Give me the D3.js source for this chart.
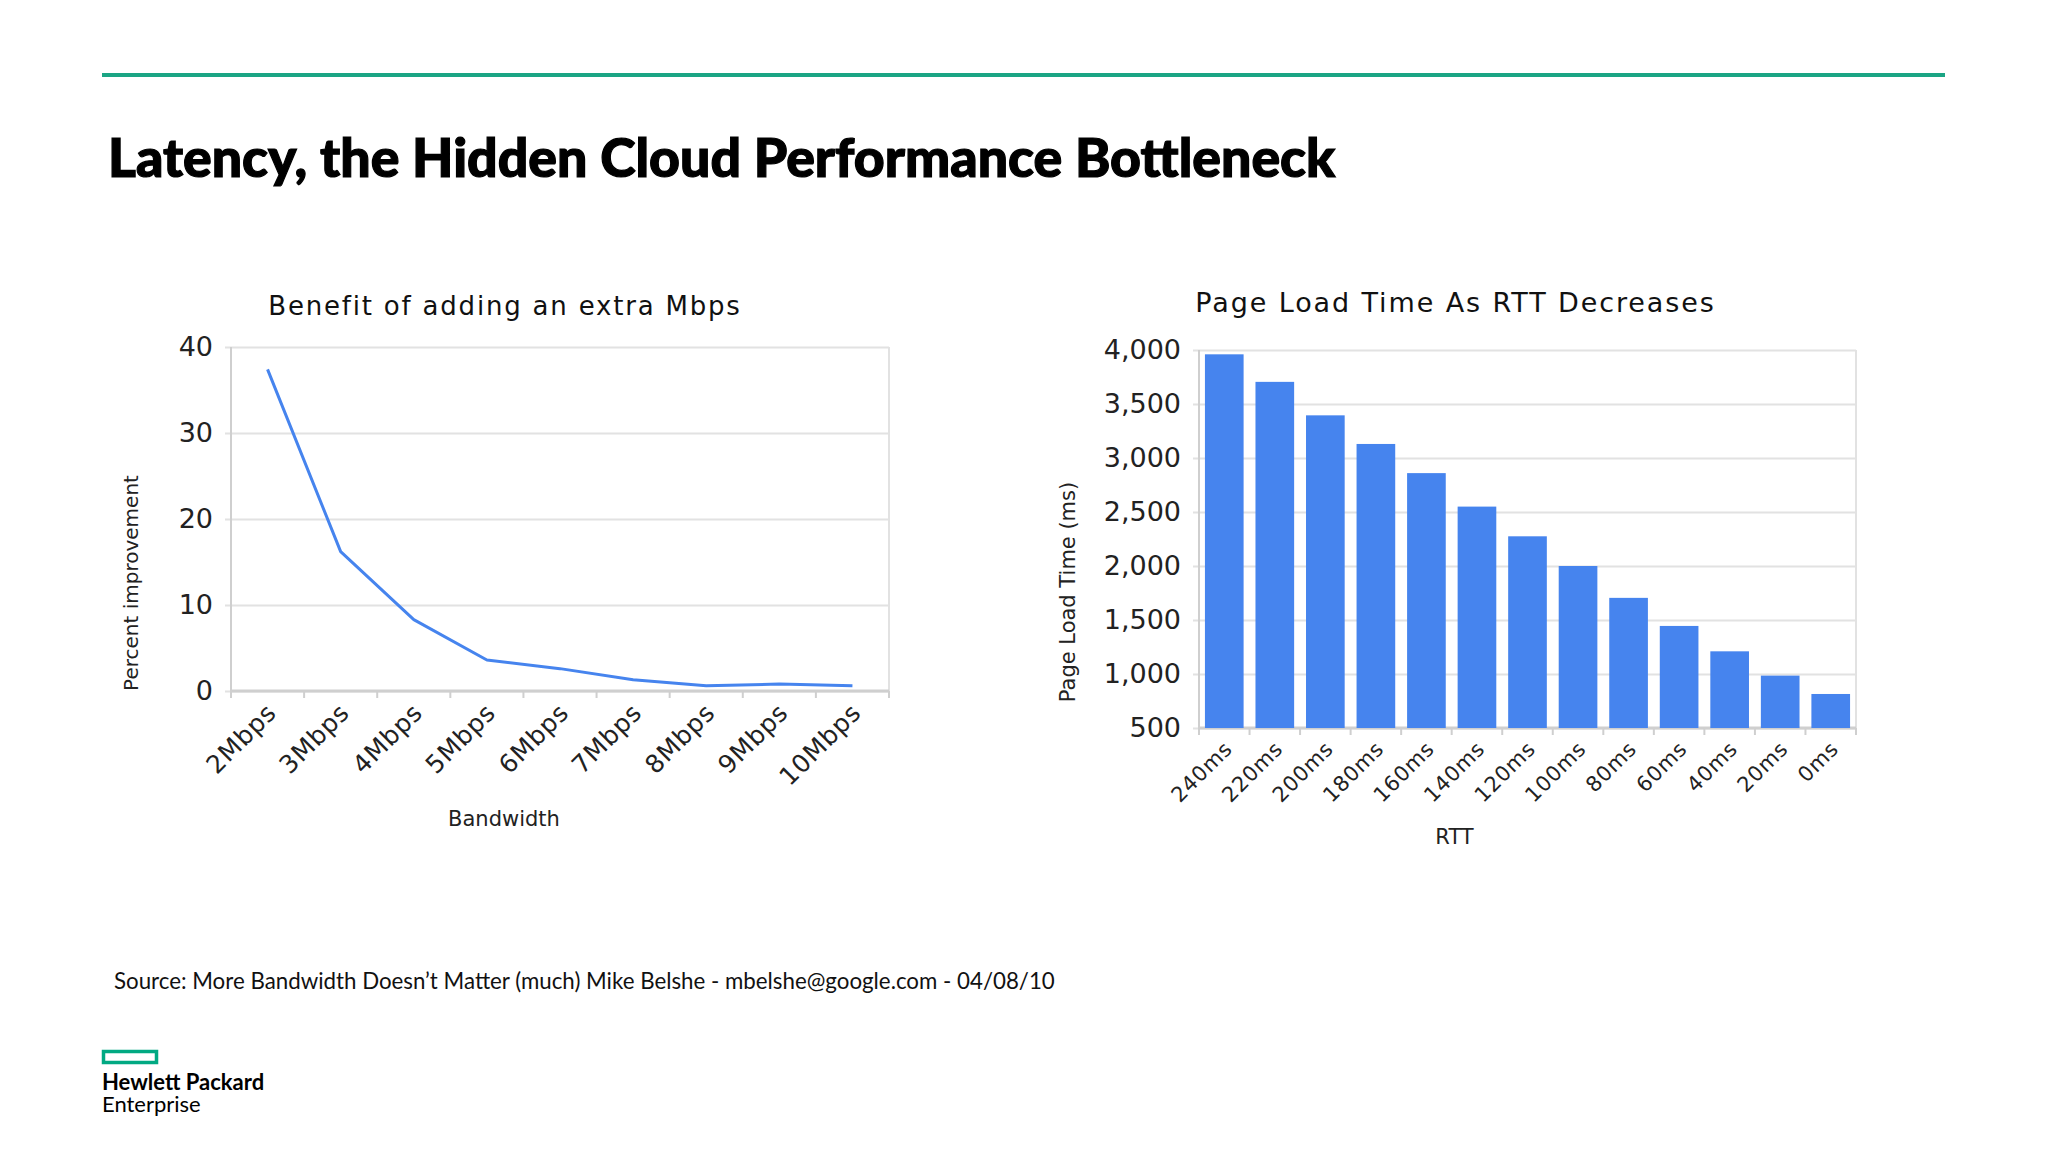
<!DOCTYPE html>
<html>
<head>
<meta charset="UTF-8"/>
<style>
  body { margin: 0; background: #fff; }
  svg text { fill: #222; }
</style>
</head>
<body>
<script type="text/javascript" src="https://cdn.jsdelivr.net/npm/d3@7/dist/d3.min.js"></script>

<script>
// values
var bandwidths = ["2Mbps", "3Mbps", "4Mbps", "5Mbps", "6Mbps", "7Mbps", "8Mbps", "9Mbps", "10Mbps"];
var improvement = [37.4, 16.2, 8.3, 3.6, 2.6, 1.3, 0.6, 0.8, 0.6];
var pctTicks = [0, 10, 20, 30, 40];

var rtts = ["240ms", "220ms", "200ms", "180ms", "160ms", "140ms", "120ms", "100ms", "80ms", "60ms", "40ms", "20ms", "0ms"];
var loadTimes = [3960, 3705, 3395, 3130, 2860, 2550, 2275, 2000, 1705, 1445, 1210, 985, 815];
var loadTicks = [500, 1000, 1500, 2000, 2500, 3000, 3500, 4000];

var blue = "#4684ee";
var gridColor = "#e2e2e2";
var axisColor = "#cfcfcf";
var chartFont = "DejaVu Sans";
var slideFont = "Lato";

var svg = d3.select("body").append("svg")
    .attr("width", 2048)
    .attr("height", 1152);

// slide chrome
svg.append("line")
  .attr("x1", 102).attr("x2", 1945)
  .attr("y1", 75).attr("y2", 75)
  .attr("stroke", "#1ba584")
  .attr("stroke-width", 4);

svg.append("text")
  .attr("x", 108).attr("y", 177)
  .attr("font-family", slideFont)
  .attr("font-weight", 900)
  .attr("font-size", 53.6)
  .attr("stroke", "#000")
  .attr("stroke-width", 1.2)
  .style("fill", "#000")
  .text("Latency, the Hidden Cloud Performance Bottleneck");

svg.append("text")
  .attr("x", 114).attr("y", 989)
  .attr("font-family", slideFont)
  .attr("font-size", 22.3)
  .style("fill", "#111")
  .text("Source: More Bandwidth Doesn\u2019t Matter (much) Mike Belshe - mbelshe@google.com - 04/08/10");

svg.append("rect")
  .attr("x", 103.5).attr("y", 1051.5)
  .attr("width", 53).attr("height", 11)
  .attr("fill", "none")
  .attr("stroke", "#01a982")
  .attr("stroke-width", 3.5);

svg.append("text")
  .attr("x", 102).attr("y", 1090)
  .attr("font-family", slideFont)
  .attr("font-weight", 700)
  .attr("font-size", 22)
  .style("fill", "#000")
  .text("Hewlett Packard");

svg.append("text")
  .attr("x", 102).attr("y", 1112)
  .attr("font-family", slideFont)
  .attr("font-size", 22)
  .style("fill", "#000")
  .text("Enterprise");


// common frame: grid, borders, y labels, x labels between band ticks
var drawFrame = function(g, x, y, ticks, fmt, w, h, xFont){
  var yAxis = g.append("g")
      .call(d3.axisLeft(y).tickValues(ticks).tickFormat(fmt)
              .tickSizeInner(-w).tickSizeOuter(0).tickPadding(18));
  yAxis.select(".domain").remove();
  yAxis.selectAll(".tick line")
      .attr("x1", -6)
      .attr("stroke", gridColor)
      .attr("stroke-width", 2);
  yAxis.selectAll("text")
      .attr("font-family", chartFont)
      .attr("font-size", 27);

  // right border + left axis
  g.append("line").attr("x1", w).attr("x2", w).attr("y1", 0).attr("y2", h)
      .attr("stroke", gridColor).attr("stroke-width", 2);
  g.append("line").attr("x1", 0).attr("x2", 0).attr("y1", 0).attr("y2", h + 7)
      .attr("stroke", axisColor).attr("stroke-width", 2);
  g.append("line").attr("x1", 0).attr("x2", w).attr("y1", h).attr("y2", h)
      .attr("stroke", axisColor).attr("stroke-width", 3);

  // tick marks sit on the band boundaries
  var bounds = d3.range(x.domain().length + 1).map(function(i){ return x.range()[0] + i * x.step(); });
  g.selectAll("line.btick")
      .data(bounds)
      .enter().append("line")
        .attr("class", "btick")
        .attr("x1", function(d){ return d; }).attr("x2", function(d){ return d; })
        .attr("y1", h).attr("y2", h + 7)
        .attr("stroke", axisColor).attr("stroke-width", 2);

  var xAxis = g.append("g")
      .attr("transform", "translate(0," + h + ")")
      .call(d3.axisBottom(x).tickSize(0).tickPadding(0));
  xAxis.select(".domain").remove();
  xAxis.selectAll("text")
      .attr("font-family", chartFont)
      .attr("font-size", xFont)
      .attr("letter-spacing", 0.8)
      .attr("text-anchor", "end")
      .attr("y", 0).attr("dy", "0.35em")
      .attr("transform", "translate(4,17) rotate(-45)");
};

var chartTitle = function(g, txt, cx, y, size, ls){
  g.append("text")
    .attr("x", cx).attr("y", y)
    .attr("text-anchor", "middle")
    .attr("font-family", chartFont)
    .attr("font-size", size)
    .attr("letter-spacing", ls)
    .style("fill", "#111")
    .text(txt);
};

var axisTitle = function(g, txt, x, y, rotate, size){
  g.append("text")
    .attr("transform", "translate(" + x + "," + y + ")" + (rotate ? " rotate(-90)" : ""))
    .attr("text-anchor", "middle")
    .attr("font-family", chartFont)
    .attr("font-size", size)
    .text(txt);
};


// left chart: line
var L = { left: 231, top: 347, w: 658, h: 344 };
var gl = svg.append("g").attr("transform", "translate(" + L.left + "," + L.top + ")");

var xL = d3.scaleBand().domain(bandwidths).range([0, L.w]);
var yL = d3.scaleLinear().domain([0, 40]).range([L.h, 0]);

drawFrame(gl, xL, yL, pctTicks, d3.format("d"), L.w, L.h, 25);

var lineFunction = d3.line()
    .x(function(d, i){ return xL(bandwidths[i]) + xL.bandwidth() / 2; })
    .y(function(d){ return yL(d); });

gl.append("path")
  .datum(improvement)
  .attr("d", lineFunction)
  .attr("fill", "none")
  .attr("stroke", blue)
  .attr("stroke-width", 3)
  .attr("stroke-linejoin", "round");

chartTitle(gl, "Benefit of adding an extra Mbps", L.w / 2 - 55, -32, 26, 1.8);
axisTitle(gl, "Bandwidth", L.w / 2 - 56, 479, false, 21);
axisTitle(gl, "Percent improvement", -93, 236, true, 20);


// right chart: bars
var R = { left: 1199, top: 350, w: 657, h: 378 };
var gr = svg.append("g").attr("transform", "translate(" + R.left + "," + R.top + ")");

var xR = d3.scaleBand().domain(rtts).range([0, R.w]).paddingInner(0.235).paddingOuter(0.1175);
var yR = d3.scaleLinear().domain([500, 4000]).range([R.h, 0]);

drawFrame(gr, xR, yR, loadTicks, d3.format(","), R.w, R.h, 21);

gr.selectAll("rect.bar")
  .data(loadTimes)
  .enter().append("rect")
    .attr("class", "bar")
    .attr("x", function(d, i){ return xR(rtts[i]); })
    .attr("y", function(d){ return yR(d); })
    .attr("width", xR.bandwidth())
    .attr("height", function(d){ return yR(500) - yR(d); })
    .attr("fill", blue);

chartTitle(gr, "Page Load Time As RTT Decreases", R.w / 2 - 72, -38, 27, 1.9);
axisTitle(gr, "RTT", R.w / 2 - 73, 494, false, 21);
axisTitle(gr, "Page Load Time (ms)", -124, 242, true, 21);

</script>
</body>
</html>
